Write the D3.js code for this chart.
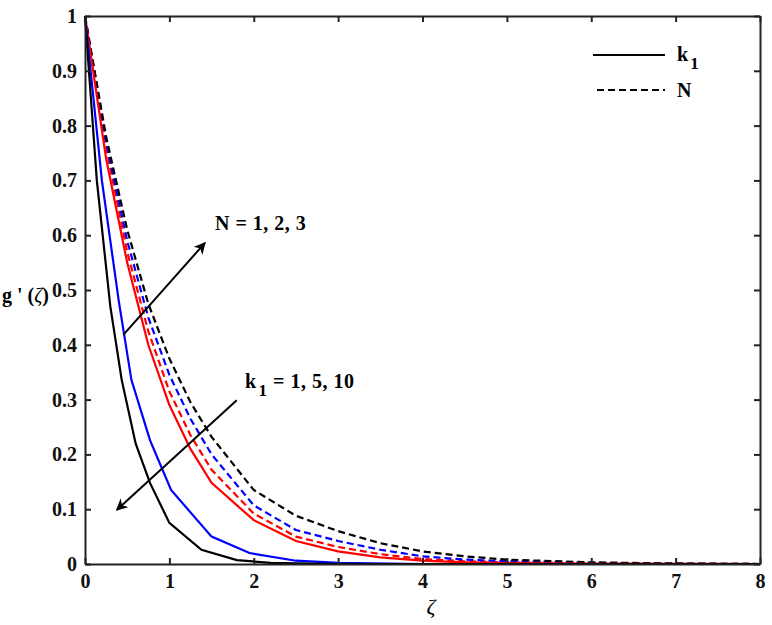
<!DOCTYPE html>
<html>
<head>
<meta charset="utf-8">
<script src="https://cdn.jsdelivr.net/npm/d3@7"></script>
<style>
  body { margin: 0; background: #fff; }
  text { font-family: "Liberation Serif", "Times New Roman", serif; font-weight: bold; }
</style>
</head>
<body>
<script>
// velocity profiles g'(zeta)
var xTicks = [0, 1, 2, 3, 4, 5, 6, 7, 8];
var yTicks = [0, 0.1, 0.2, 0.3, 0.4, 0.5, 0.6, 0.7, 0.8, 0.9, 1];

// k1 = 1, 5, 10 (solid)
var k1One = [[0,1],[0.25,0.74],[0.5,0.55],[0.75,0.40],[1,0.29],[1.25,0.21],[1.5,0.148],[2,0.08],[2.5,0.042],[3,0.023],[3.5,0.012],[4,0.006],[4.5,0.003],[5,0.0015],[6,0.0004],[7,0.0001],[8,0]];
var k1Five = [[0,1],[0.2,0.70],[0.4,0.48],[0.55,0.336],[0.77,0.226],[1.02,0.135],[1.5,0.05],[1.95,0.02],[2.5,0.006],[3,0.002],[4,0],[8,0]];
var k1Ten = [[0,1],[0.14,0.70],[0.3,0.47],[0.435,0.336],[0.6,0.22],[0.77,0.148],[1,0.075],[1.38,0.026],[1.8,0.007],[2.2,0.002],[3,0],[8,0]];

// N = 1, 2, 3 (dashed)
var nOne = [[0,1],[0.25,0.76],[0.5,0.57],[0.75,0.425],[1,0.315],[1.25,0.235],[1.5,0.172],[2,0.092],[2.5,0.05],[3,0.031],[3.5,0.018],[4,0.009],[4.5,0.005],[5,0.003],[6,0.001],[7,0.0003],[8,0]];
var nTwo = [[0,1],[0.25,0.77],[0.5,0.59],[0.75,0.45],[1,0.345],[1.25,0.265],[1.5,0.2],[2,0.107],[2.5,0.062],[3,0.042],[3.5,0.026],[4,0.014],[4.5,0.008],[5,0.005],[6,0.002],[7,0.0007],[8,0]];
var nThree = [[0,1],[0.25,0.78],[0.5,0.61],[0.75,0.475],[1,0.375],[1.25,0.295],[1.5,0.232],[2,0.135],[2.5,0.088],[3,0.06],[3.5,0.038],[4,0.023],[4.5,0.014],[5,0.008],[6,0.003],[7,0.001],[8,0]];

var curves = [
  {pts: nOne, color: "red", dash: true},
  {pts: nTwo, color: "blue", dash: true},
  {pts: nThree, color: "black", dash: true},
  {pts: k1One, color: "red", dash: false},
  {pts: k1Five, color: "blue", dash: false},
  {pts: k1Ten, color: "black", dash: false}
];

var options = { width: 772, height: 625, left: 85, top: 16, right: 760, bottom: 564 };

var svg = d3.select('body').append('svg')
  .attr('width', options.width)
  .attr('height', options.height);

var x = d3.scaleLinear().domain([0, 8]).range([options.left, options.right]);
var y = d3.scaleLinear().domain([0, 1]).range([options.bottom, options.top]);

var line = d3.line()
  .x(function(d){ return x(d[0]); })
  .y(function(d){ return y(d[1]); });

svg.selectAll('path.curve')
  .data(curves)
  .enter()
  .append('path')
  .attr('class', 'curve')
  .attr('d', function(d){ return line(d.pts); })
  .attr('fill', 'none')
  .attr('stroke', function(d){ return d.color; })
  .attr('stroke-width', 2.2)
  .attr('stroke-dasharray', function(d){ return d.dash ? '7,4' : null; });

// axes, ticks inward on all four sides
var tickLen = 6;
var fmt = function(d){ return d === 0 || d === 1 ? String(d) : d3.format('.1f')(d); };

svg.append('g')
  .attr('transform', 'translate(0,' + options.bottom + ')')
  .call(d3.axisBottom(x).tickValues(xTicks).tickSizeInner(-tickLen).tickSizeOuter(0).tickPadding(10).tickFormat(d3.format('d')));
svg.append('g')
  .attr('transform', 'translate(0,' + options.top + ')')
  .call(d3.axisTop(x).tickValues(xTicks).tickSizeInner(-tickLen).tickSizeOuter(0).tickFormat(''));
svg.append('g')
  .attr('transform', 'translate(' + options.left + ',0)')
  .call(d3.axisLeft(y).tickValues(yTicks).tickSizeInner(-tickLen).tickSizeOuter(0).tickPadding(8).tickFormat(fmt));
svg.append('g')
  .attr('transform', 'translate(' + options.right + ',0)')
  .call(d3.axisRight(y).tickValues(yTicks).tickSizeInner(-tickLen).tickSizeOuter(0).tickFormat(''));

svg.selectAll('.domain').attr('stroke', '#222').attr('stroke-width', 2);
svg.selectAll('.tick line').attr('stroke', '#222').attr('stroke-width', 2);
svg.selectAll('.tick text').attr('font-size', 20).attr('fill', '#111')
  .style('font-family', '"Liberation Serif", serif').style('font-weight', 'bold');

// axis labels
svg.append('text')
  .attr('x', 431)
  .attr('y', 614)
  .attr('text-anchor', 'middle')
  .attr('font-size', 22)
  .style('font-style', 'italic').style('font-weight', 'normal')
  .text('ζ');

var yl = svg.append('text').attr('x', 2).attr('y', 302).attr('font-size', 20);
yl.append('tspan').text("g ' (");
yl.append('tspan').style('font-style', 'italic').style('font-weight', 'normal').text('ζ');
yl.append('tspan').text(')');

// arrows
svg.append('defs').append('marker')
  .attr('id', 'head')
  .attr('viewBox', '0 0 10 10')
  .attr('refX', 9).attr('refY', 5)
  .attr('markerWidth', 12).attr('markerHeight', 12)
  .attr('markerUnits', 'userSpaceOnUse')
  .attr('orient', 'auto')
  .append('path').attr('d', 'M0,0 L10,5 L0,10 L3,5 Z').attr('fill', 'black');

var arrows = [
  {from: [0.454, 0.418], to: [1.422, 0.586]},
  {from: [1.798, 0.299], to: [0.376, 0.0985]}
];
svg.selectAll('line.arrow')
  .data(arrows)
  .enter()
  .append('line')
  .attr('class', 'arrow')
  .attr('x1', function(d){ return x(d.from[0]); })
  .attr('y1', function(d){ return y(d.from[1]); })
  .attr('x2', function(d){ return x(d.to[0]); })
  .attr('y2', function(d){ return y(d.to[1]); })
  .attr('stroke', 'black')
  .attr('stroke-width', 2)
  .attr('marker-end', 'url(#head)');

svg.append('text')
  .attr('x', x(1.54)).attr('y', y(0.609))
  .attr('font-size', 20)
  .attr('letter-spacing', 0.5)
  .text('N = 1, 2, 3');

var kl = svg.append('text').attr('x', x(1.896)).attr('y', y(0.321)).attr('font-size', 20)
  .attr('letter-spacing', 0.5);
kl.append('tspan').text('k');
kl.append('tspan').attr('dx', 2).attr('dy', 8).attr('font-size', 17).text('1');
kl.append('tspan').attr('dy', -8).text(' = 1, 5, 10');

// legend
var legend = svg.append('g');
legend.append('line').attr('x1', 593).attr('x2', 665).attr('y1', 55).attr('y2', 55)
  .attr('stroke', 'black').attr('stroke-width', 2);
legend.append('line').attr('x1', 597).attr('x2', 665).attr('y1', 90).attr('y2', 90)
  .attr('stroke', 'black').attr('stroke-width', 2).attr('stroke-dasharray', '7,4');
var lk = legend.append('text').attr('x', 677).attr('y', 61).attr('font-size', 20);
lk.append('tspan').text('k');
lk.append('tspan').attr('dx', 2).attr('dy', 8).attr('font-size', 17).text('1');
legend.append('text').attr('x', 677).attr('y', 97).attr('font-size', 20).text('N');
</script>
</body>
</html>
